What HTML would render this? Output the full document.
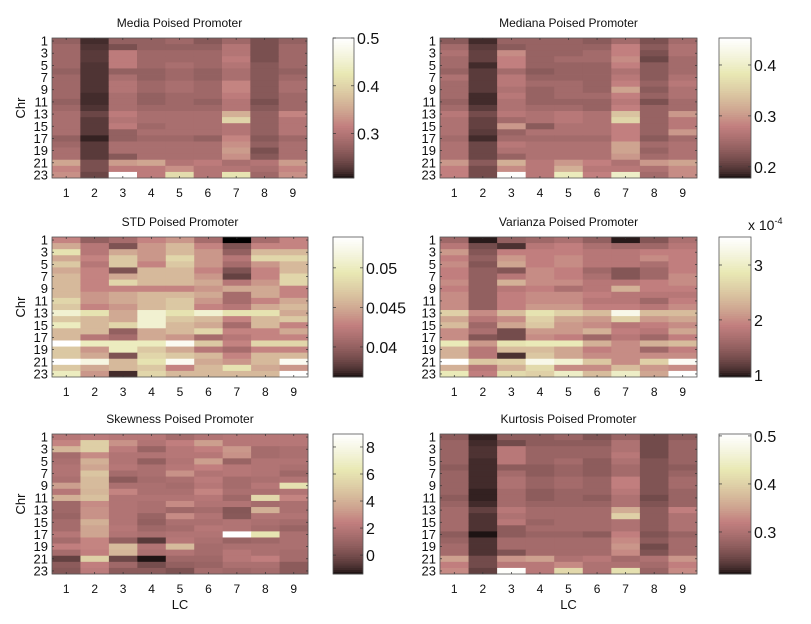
<!DOCTYPE html>
<html><head><meta charset="utf-8">
<style>
html,body{margin:0;padding:0;background:#fff;}
svg{display:block;font-family:"Liberation Sans",Arial,sans-serif;}
</style></head>
<body>
<svg id="fig" width="811" height="624" viewBox="0 0 811 624" xmlns="http://www.w3.org/2000/svg"></svg>
<script>
const categories = [1,2,3,4,5,6,7,8,9];
const chrLabels = [1,3,5,7,9,11,13,15,17,19,21,23];
const mediaValues = [
[.27,.22,.27,.27,.28,.26,.28,.25,.27],[.28,.225,.25,.27,.27,.27,.30,.25,.28],[.28,.23,.31,.28,.28,.28,.30,.25,.28],
[.28,.23,.31,.28,.28,.28,.31,.25,.28],[.28,.225,.31,.28,.29,.28,.30,.26,.28],[.27,.225,.27,.27,.28,.27,.29,.26,.27],
[.28,.225,.29,.27,.28,.27,.29,.26,.28],[.28,.225,.30,.28,.29,.28,.32,.26,.29],[.28,.225,.30,.28,.29,.28,.32,.26,.29],
[.28,.22,.29,.27,.28,.28,.31,.26,.28],[.27,.22,.29,.27,.28,.27,.30,.25,.28],[.28,.225,.29,.28,.28,.28,.30,.26,.28],
[.29,.24,.31,.29,.29,.29,.36,.27,.32],[.29,.23,.30,.29,.29,.29,.40,.27,.30],[.29,.23,.31,.28,.29,.29,.30,.27,.30],
[.29,.23,.27,.29,.29,.29,.30,.27,.30],[.27,.215,.27,.28,.28,.27,.32,.26,.28],[.28,.23,.29,.29,.29,.29,.33,.27,.29],
[.29,.23,.29,.29,.29,.29,.34,.25,.29],[.29,.23,.26,.29,.29,.29,.33,.26,.29],[.35,.25,.34,.35,.30,.31,.29,.30,.34],
[.32,.25,.31,.31,.33,.30,.30,.29,.32],[.33,.24,.50,.31,.41,.30,.42,.28,.33]];
const medianaValues = [
[.23,.19,.24,.24,.24,.23,.25,.22,.25],[.25,.20,.23,.24,.24,.24,.28,.23,.26],[.26,.205,.29,.24,.24,.25,.28,.22,.26],
[.25,.205,.28,.24,.25,.25,.29,.21,.25],[.25,.19,.28,.24,.24,.24,.28,.23,.25],[.24,.20,.25,.23,.24,.24,.26,.23,.25],
[.26,.20,.27,.24,.24,.24,.27,.23,.26],[.25,.20,.27,.25,.25,.24,.28,.24,.27],[.25,.20,.26,.24,.25,.24,.31,.23,.26],
[.25,.19,.27,.24,.25,.25,.28,.24,.26],[.24,.19,.26,.24,.24,.24,.27,.22,.25],[.25,.20,.26,.25,.25,.24,.28,.24,.25],
[.27,.215,.27,.26,.27,.26,.34,.24,.30],[.26,.205,.25,.26,.27,.26,.36,.24,.27],[.26,.205,.30,.23,.26,.26,.28,.24,.27],
[.26,.20,.24,.26,.26,.26,.28,.24,.30],[.25,.19,.25,.25,.25,.25,.28,.23,.25],[.26,.21,.27,.26,.26,.26,.31,.25,.26],
[.26,.21,.26,.26,.26,.26,.31,.24,.26],[.26,.21,.24,.26,.26,.26,.30,.25,.26],[.30,.23,.32,.27,.30,.28,.26,.30,.31],
[.28,.215,.29,.27,.32,.27,.27,.26,.29],[.28,.215,.45,.27,.39,.28,.40,.25,.29]];
const stdValues = [
[.043,.040,.041,.043,.044,.041,.036,.041,.043],[.045,.042,.039,.044,.046,.043,.039,.043,.043],[.049,.042,.045,.044,.046,.044,.040,.046,.046],
[.045,.043,.047,.044,.048,.044,.042,.048,.048],[.047,.042,.047,.043,.047,.044,.041,.044,.046],[.045,.043,.039,.046,.046,.043,.039,.043,.046],
[.046,.043,.045,.046,.046,.044,.038,.043,.048],[.046,.043,.048,.046,.046,.045,.042,.044,.048],[.046,.043,.043,.043,.043,.044,.045,.045,.043],
[.046,.044,.045,.046,.046,.045,.041,.045,.043],[.048,.044,.045,.046,.047,.044,.041,.043,.045],[.047,.043,.044,.046,.047,.043,.042,.045,.046],
[.051,.049,.045,.051,.049,.051,.049,.049,.045],[.047,.046,.045,.051,.047,.046,.043,.046,.047],[.050,.046,.048,.051,.046,.045,.041,.046,.043],
[.046,.046,.040,.045,.046,.048,.043,.043,.045],[.046,.042,.041,.045,.044,.041,.042,.043,.043],[.054,.050,.050,.050,.053,.047,.043,.048,.048],
[.047,.044,.050,.047,.045,.042,.041,.043,.043],[.047,.045,.039,.048,.047,.046,.043,.046,.046],[.054,.052,.046,.049,.053,.045,.044,.046,.053],
[.047,.045,.046,.047,.043,.046,.049,.045,.044],[.050,.044,.037,.048,.046,.046,.046,.046,.054]];
const varianzaValues = [
[1.6,1.0,1.5,1.6,1.7,1.5,1.0,1.4,1.7],[1.8,1.3,1.1,1.8,1.9,1.7,1.6,1.6,1.8],[2.1,1.4,1.9,1.9,1.9,1.8,1.8,1.9,1.9],
[1.9,1.5,2.1,1.9,2.0,1.8,1.8,2.0,1.9],[2.0,1.4,2.2,1.9,2.0,1.8,1.8,1.7,1.9],[1.9,1.5,1.4,2.0,1.9,1.6,1.4,1.6,1.9],
[1.9,1.5,1.8,2.0,1.9,1.7,1.4,1.6,2.0],[2.0,1.5,2.3,2.0,2.0,1.8,1.8,1.9,2.0],[1.9,1.5,1.8,1.9,1.7,1.8,2.3,1.9,1.9],
[2.0,1.5,1.9,2.0,2.0,1.9,1.8,1.8,1.8],[2.0,1.5,1.9,2.0,2.0,1.8,1.8,1.6,1.9],[2.0,1.5,1.9,2.1,2.1,1.9,1.9,1.8,2.0],
[2.6,2.0,2.4,2.8,2.6,2.4,3.3,2.4,2.4],[2.2,1.8,2.0,2.6,2.2,2.1,2.6,2.1,2.2],[2.4,1.6,2.2,2.5,2.1,2.0,1.8,1.9,2.0],
[2.0,1.7,1.3,2.1,2.1,2.3,1.9,1.8,2.2],[2.0,1.4,1.3,2.0,1.9,1.6,1.8,1.6,1.9],[2.9,2.1,2.8,2.9,2.9,2.3,2.0,2.3,2.4],
[2.3,1.8,2.4,2.4,2.2,1.9,2.0,1.6,1.9],[2.3,1.8,1.1,2.5,2.2,2.0,2.0,2.0,2.0],[3.5,2.5,2.6,3.3,3.1,2.5,2.0,2.6,3.4],
[2.3,1.8,2.3,2.7,2.0,2.0,2.4,2.1,2.0],[2.9,1.9,2.7,2.6,3.0,2.4,3.0,2.2,3.5]];
const skewnessValues = [
[2.0,2.2,2.0,2.0,1.4,1.8,2.0,2.0,2.0],[2.6,5.2,3.0,1.8,2.4,3.4,2.0,2.0,2.0],[4.2,5.2,2.2,1.0,2.0,2.4,3.2,1.4,1.6],
[1.4,2.8,1.8,1.8,2.0,2.0,3.0,1.4,1.6],[1.6,4.0,1.8,0.8,1.8,3.4,1.0,1.8,1.8],[1.8,3.6,2.0,1.6,2.0,2.4,2.0,1.8,1.6],
[1.8,4.8,1.4,1.6,3.0,1.8,2.0,1.8,1.2],[1.6,4.4,0.6,1.4,1.6,2.2,1.4,1.6,1.8],[3.4,4.4,1.6,1.6,1.4,2.0,1.4,2.0,6.0],
[2.0,4.2,2.6,1.6,1.6,2.6,1.6,1.6,1.8],[4.0,4.6,1.8,1.8,1.8,2.0,1.2,5.6,2.6],[1.2,2.8,1.8,1.6,2.8,1.8,1.8,1.4,1.6],
[1.2,3.0,1.8,1.6,1.2,1.4,0.4,4.0,1.6],[1.0,3.0,1.8,1.0,2.8,1.8,0.5,1.8,1.8],[1.4,4.0,1.8,0.8,1.6,1.6,1.8,1.6,1.4],
[1.4,3.6,2.0,1.2,1.4,2.0,1.8,1.4,1.0],[2.0,3.6,1.8,1.6,1.8,1.8,9.0,6.2,1.6],[1.4,2.6,0.8,-0.6,2.0,1.6,1.0,1.2,1.6],
[2.4,2.6,4.4,1.8,4.4,1.4,1.6,1.6,1.6],[1.4,2.4,4.2,1.6,1.8,1.4,2.0,1.6,1.4],[-0.4,5.2,-0.2,-1.3,1.2,1.2,2.0,2.4,1.4],
[0.6,2.4,1.2,0.0,0.8,1.0,1.6,1.6,0.6],[0.4,2.2,0.6,0.6,0.2,1.4,1.2,1.4,0.6]];
const kurtosisValues = [
[.27,.22,.27,.27,.28,.26,.28,.25,.27],[.28,.225,.25,.27,.27,.27,.30,.25,.28],[.28,.23,.31,.28,.28,.28,.30,.25,.28],
[.28,.23,.31,.28,.28,.28,.31,.25,.28],[.28,.225,.31,.28,.29,.27,.30,.26,.28],[.27,.225,.27,.27,.28,.27,.29,.26,.27],
[.28,.225,.29,.27,.28,.27,.29,.26,.28],[.28,.225,.30,.28,.29,.28,.32,.26,.29],[.28,.225,.30,.28,.29,.28,.32,.26,.29],
[.28,.22,.29,.27,.28,.28,.31,.26,.28],[.27,.22,.29,.27,.28,.27,.30,.25,.28],[.28,.225,.29,.28,.28,.28,.30,.26,.28],
[.29,.24,.31,.29,.29,.29,.36,.27,.32],[.29,.23,.30,.29,.29,.29,.40,.27,.30],[.29,.23,.31,.28,.29,.29,.30,.27,.30],
[.29,.23,.27,.29,.29,.29,.30,.27,.30],[.27,.215,.27,.28,.28,.27,.32,.26,.28],[.28,.23,.29,.29,.29,.29,.33,.27,.29],
[.29,.23,.29,.29,.29,.29,.34,.25,.29],[.29,.23,.26,.29,.29,.29,.33,.26,.29],[.35,.25,.34,.35,.30,.31,.29,.30,.34],
[.32,.25,.31,.31,.33,.30,.30,.29,.32],[.33,.24,.50,.31,.41,.30,.42,.28,.33]];
const mediaTicks = [0.3,0.4,0.5];
const medianaTicks = [0.2,0.3,0.4];
const stdTicks = [0.04,0.045,0.05];
const varianzaTicks = [1,2,3];
const skewnessTicks = [0,2,4,6,8];
const kurtosisTicks = [0.3,0.4,0.5];

const NS = "http://www.w3.org/2000/svg";
const fig = document.getElementById('fig');
function mk(tag, attrs, parent){const e=document.createElementNS(NS,tag);for(const k in attrs)e.setAttribute(k,attrs[k]);(parent||fig).appendChild(e);return e;}
function pink(t){
  t=Math.max(0,Math.min(1,t));
  const r=Math.min(1,t/0.375), g=Math.max(0,Math.min(1,(t-0.375)/0.375)), b=Math.max(0,Math.min(1,(t-0.75)/0.25));
  const f=h=>Math.round(255*Math.sqrt((2*t+h)/3));
  return `rgb(${f(r)},${f(g)},${f(b)})`;
}
function panel(o){
  const g=mk('g',{});
  
  
  const nR=o.data.length, nC=categories.length;
  const xs=c=>o.x0+(o.x1-o.x0)*c/nC;
  const ys=r=>o.y0+(o.y1-o.y0)*r/nR;
  const col=v=>pink((v-o.cmin)/(o.cmax-o.cmin));
  o.data.forEach((row,r)=>row.forEach((v,c)=>{
    const cell=mk('rect',{x:xs(c),y:ys(r),width:xs(c+1)-xs(c)+0.4,height:ys(r+1)-ys(r)+0.4,fill:col(v)},g);
    
    
  }));
  mk('rect',{x:o.x0,y:o.y0,width:o.x1-o.x0,height:o.y1-o.y0,fill:'none',stroke:'#555','stroke-width':0.8},g);
  categories.forEach((c,i)=>{
    const cx=(xs(i)+xs(i+1))/2;
    mk('line',{x1:cx,x2:cx,y1:o.y0,y2:o.y0+2,stroke:'#333','stroke-width':0.7},g);
    mk('line',{x1:cx,x2:cx,y1:o.y1,y2:o.y1-2,stroke:'#333','stroke-width':0.7},g);
    const t=mk('text',{x:cx,y:o.y1+19,'font-size':12,'text-anchor':'middle',fill:'#111'},g);t.textContent=c;
    
    
  });
  chrLabels.forEach(n=>{
    const cy=(ys(n-1)+ys(n))/2;
    mk('line',{x1:o.x0,x2:o.x0+2,y1:cy,y2:cy,stroke:'#333','stroke-width':0.7},g);
    mk('line',{x1:o.x1,x2:o.x1-2,y1:cy,y2:cy,stroke:'#333','stroke-width':0.7},g);
    const t=mk('text',{x:o.x0-4,y:cy+4.5,'font-size':13,'text-anchor':'end',fill:'#111'},g);t.textContent=n;
    
    
  });
  const tt=mk('text',{x:(o.x0+o.x1)/2,y:o.y0-11,'font-size':12,'text-anchor':'middle',fill:'#111'},g);tt.textContent=o.title;
  
  
  if(o.ylabel){const t=mk('text',{x:0,y:0,'font-size':13,'text-anchor':'middle',fill:'#111',transform:`translate(25,${(o.y0+o.y1)/2}) rotate(-90)`},g);t.textContent='Chr';
    
    }
  if(o.xlabel){const t=mk('text',{x:(o.x0+o.x1)/2,y:o.y1+35,'font-size':13,'text-anchor':'middle',fill:'#111'},g);t.textContent='LC';
    
    }
  const cb=mk('g',{},g);
  
  
  const N=64, h=(o.y1-o.y0)/N;
  for(let i=0;i<N;i++) mk('rect',{x:o.cx0,y:o.y1-(i+1)*h,width:o.cx1-o.cx0,height:h+0.4,fill:pink((i+0.5)/N)},cb);
  mk('rect',{x:o.cx0,y:o.y0,width:o.cx1-o.cx0,height:o.y1-o.y0,fill:'none',stroke:'#555','stroke-width':0.8},cb);
  const cy=v=>o.y1-(v-o.cmin)/(o.cmax-o.cmin)*(o.y1-o.y0);
  o.ticks.forEach(v=>{
    const y=cy(v);
    mk('line',{x1:o.cx0,x2:o.cx0+3,y1:y,y2:y,stroke:'#333','stroke-width':0.7},cb);
    mk('line',{x1:o.cx1,x2:o.cx1-3,y1:y,y2:y,stroke:'#333','stroke-width':0.7},cb);
    const t=mk('text',{x:o.cx1+3,y:y+6,'font-size':16,fill:'#111'},cb);t.textContent=String(v);
    
    
  });
  if(o.exp){const t=mk('text',{x:o.cx1-3,y:o.y0-7,'font-size':14,fill:'#111'},cb);
    t.innerHTML='x 10<tspan dy="-6" font-size="9">-4</tspan>';
    
    }
}
panel({name:'media-heatmap',title:'Media Poised Promoter',data:mediaValues,x0:52,x1:307,y0:38,y1:178,cx0:333,cx1:354,cmin:0.207,cmax:0.5,ticks:mediaTicks,ylabel:true});
panel({name:'mediana-heatmap',title:'Mediana Poised Promoter',data:medianaValues,x0:440,x1:697,y0:38,y1:178,cx0:719,cx1:751,cmin:0.178,cmax:0.453,ticks:medianaTicks});
panel({name:'std-heatmap',title:'STD Poised Promoter',data:stdValues,x0:52,x1:308,y0:237,y1:377,cx0:333,cx1:363,cmin:0.0362,cmax:0.0539,ticks:stdTicks,ylabel:true});
panel({name:'varianza-heatmap',title:'Varianza Poised Promoter',data:varianzaValues,x0:440,x1:697,y0:237,y1:377,cx0:719,cx1:751,cmin:0.96,cmax:3.51,ticks:varianzaTicks,exp:true});
panel({name:'skewness-heatmap',title:'Skewness Poised Promoter',data:skewnessValues,x0:52,x1:308,y0:434,y1:574,cx0:333,cx1:363,cmin:-1.4,cmax:8.96,ticks:skewnessTicks,ylabel:true,xlabel:true});
panel({name:'kurtosis-heatmap',title:'Kurtosis Poised Promoter',data:kurtosisValues,x0:440,x1:697,y0:434,y1:574,cx0:719,cx1:751,cmin:0.2125,cmax:0.504,ticks:kurtosisTicks,xlabel:true});
</script>
</body></html>
